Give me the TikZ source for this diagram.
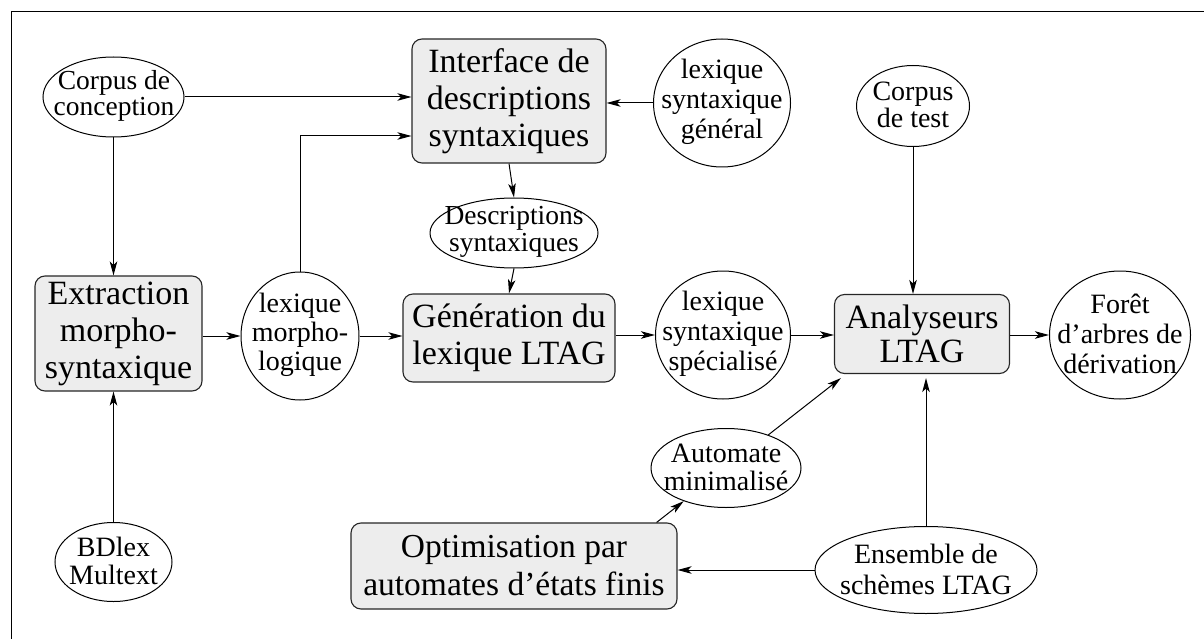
\documentclass[tikz,border=0pt]{standalone}
\usepackage{fontspec}
\setmainfont{Liberation Serif}
\usetikzlibrary{shapes.geometric,arrows.meta}
\begin{document}
\begin{tikzpicture}[x=1pt,y=-1pt,
  ell/.style={ellipse,draw,line width=1pt,inner sep=0pt},
  box/.style={draw=black!85,line width=1.1pt,fill=black!7,rounded corners=10pt,inner sep=0pt,align=center,font=\fontsize{34}{37}\selectfont},
  etxt/.style={align=center,inner sep=0pt,font=\fontsize{28}{29}\selectfont},
  tight/.style={font=\fontsize{27.5}{26.5}\selectfont},
  arr/.style={line width=1pt,-{Stealth[length=14pt,width=7.5pt,inset=3.5pt]}}]
\useasboundingbox (0,0) rectangle (1204,639);
% frame
\coordinate (fa) at (11,639);
\coordinate (fb) at (11,12);
\coordinate (fc) at (1204,12);
\draw[line width=1pt] (fa) -- (fb) -- (fc);

% boxes
\node[box,minimum width=194pt,minimum height=124pt] (iface) at (509,101) {Interface de\\descriptions\\syntaxiques};
\node[box,minimum width=167pt,minimum height=115pt] (extr) at (118.5,333.5) {Extraction\\morpho-\\syntaxique};
\node[box,minimum width=212pt,minimum height=88pt] (genlex) at (509,338) {Génération du\\lexique LTAG};
\node[box,minimum width=175pt,minimum height=79pt,font=\fontsize{34}{34}\selectfont] (an) at (922,334) {Analyseurs\\LTAG};
\node[box,minimum width=326pt,minimum height=86pt,font=\fontsize{33.5}{38}\selectfont] (opt) at (514,566) {Optimisation par\\automates d’états finis};

% ellipses
\node[ell,minimum width=141pt,minimum height=80pt] (cc) at (113.5,97) {};
\node[etxt,tight] (cct) at (114,96) {Corpus de\\conception};
\node[ell,minimum width=137pt,minimum height=128pt] (sg) at (722,103) {};
\node[etxt,font=\fontsize{28}{30}\selectfont] (sgt) at (722,102) {lexique\\syntaxique\\général};
\node[ell,minimum width=113pt,minimum height=81pt] (ct) at (913,106) {};
\node[etxt,font=\fontsize{28}{27}\selectfont] (ctt) at (913,105) {Corpus\\de test};
\node[ell,minimum width=168pt,minimum height=70pt] (desc) at (514,233) {};
\node[etxt,tight] (desct) at (514,232) {Descriptions\\syntaxiques};
\node[ell,minimum width=118pt,minimum height=128pt] (lm) at (300,336) {};
\node[etxt] (lmt) at (300,335) {lexique\\morpho-\\logique};
\node[ell,minimum width=135pt,minimum height=128pt] (spec) at (723,335) {};
\node[etxt,font=\fontsize{28}{30}\selectfont] (spect) at (723,334) {lexique\\syntaxique\\spécialisé};
\node[ell,minimum width=141pt,minimum height=128pt] (foret) at (1120,335) {};
\node[etxt,font=\fontsize{28}{30}\selectfont] (forett) at (1120,334) {Forêt\\d’arbres de\\dérivation};
\node[ell,minimum width=150pt,minimum height=79pt] (am) at (726,468) {};
\node[etxt,font=\fontsize{28}{28}\selectfont] (amt) at (726,467) {Automate\\minimalisé};
\node[ell,minimum width=117pt,minimum height=79pt] (bd) at (113.5,562) {};
\node[etxt,font=\fontsize{28}{28}\selectfont] (bdt) at (113.5,561) {BDlex\\Multext};
\node[ell,minimum width=222pt,minimum height=87pt] (ens) at (926,570) {};
\node[etxt,font=\fontsize{28}{31}\selectfont] (enst) at (926,569) {Ensemble de\\schèmes LTAG};

% connectors
\draw[arr] (cc.east) -- (cc.east -| iface.west);
\draw[arr] (lm.north) |- ([yshift=-35pt]iface.west);
\draw[arr] (sg.west) -- (sg.west -| iface.east);
\draw[arr] (iface.south) -- (desc.north);
\draw[arr] (desc.south) -- (genlex.north);
\draw[arr] (cc.south) -- (cc.south |- extr.north);
\draw[arr] (bd.north) -- (bd.north |- extr.south);
\draw[arr] (extr.east |- lm.west) -- (lm.west);
\draw[arr] (lm.east) -- (lm.east -| genlex.west);
\draw[arr] (genlex.east |- spec.west) -- (spec.west);
\draw[arr] (spec.east) -- (spec.east -| an.west);
\draw[arr] (an.east |- foret.west) -- (foret.west);
\draw[arr] (ct.south) -- (ct.south |- an.north);
\draw[arr] (ens.north) -- ([yshift=-4pt]ens.north |- an.south);
\draw[arr] (ens.west) -- (ens.west -| opt.east);
\draw[arr] ([xshift=-21pt]opt.north east) -- (am);
\draw[arr] (am) -- ([shift={(7pt,-4pt)}]an.south west);
\end{tikzpicture}
\end{document}
